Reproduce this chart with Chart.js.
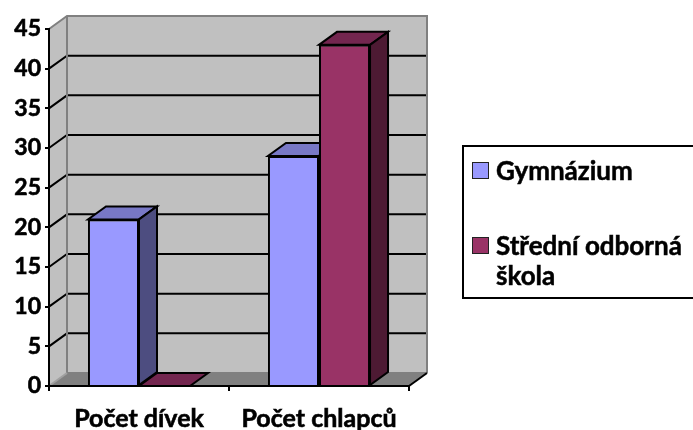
<!DOCTYPE html>
<html>
<head>
<meta charset="utf-8">
<script src="https://cdn.jsdelivr.net/npm/chart.js@4"></script>
<style>
  html, body { margin: 0; padding: 0; background: #fff; }
  #wrap { position: relative; width: 693px; height: 430px; overflow: hidden; }
  #c { position: absolute; left: 0; top: 0; }
  #legend { position: absolute; left: 462px; top: 145px; width: 260px; height: 154px;
    border: 2px solid #000; box-sizing: border-box; font-family: Lato, sans-serif; font-weight: bold;
    font-size: 26px; color: #000; -webkit-text-stroke: 0.5px #000; }
  .item { position: absolute; left: 8px; display: flex; align-items: flex-start; line-height: 30px; }
  .sw { width: 15px; height: 15px; border: 1.5px solid #222; margin-top: 7px; margin-right: 7px; flex: none; }
</style>
</head>
<body>
<div id="wrap">
  <canvas id="c" width="693" height="430"></canvas>
  <div id="legend"></div>
</div>
<script>
const categories = ["Počet dívek", "Počet chlapců"];
const seriesNames = ["Gymnázium", "Střední odborná škola"];
const legendLines = [["Gymnázium"], ["Střední odborná", "škola"]];
const gymnazium = [21, 29];
const stredniOdborna = [0, 43];
const yTicks = [0, 5, 10, 15, 20, 25, 30, 35, 40, 45];

const frontColors = ["#9999FF", "#993366"];
const topColors = ["#7878C6", "#73264F"];
const sideColors = ["#4D4D80", "#4D1A33"];
const DX = 18, DY = -13;

const walls = {
  id: 'walls',
  beforeDraw(chart) {
    const { ctx, chartArea: a, scales: { y } } = chart;
    const x0 = a.left, x1 = a.right;
    const y0 = y.getPixelForValue(yTicks[0]);
    const yT = y.getPixelForValue(yTicks[yTicks.length - 1]);
    ctx.save();
    ctx.fillStyle = '#C0C0C0';
    ctx.beginPath();
    ctx.moveTo(x0, y0); ctx.lineTo(x0, yT); ctx.lineTo(x0 + DX, yT + DY); ctx.lineTo(x0 + DX, y0 + DY); ctx.closePath();
    ctx.fill();
    ctx.fillRect(x0 + DX, yT + DY, x1 - x0, y0 - yT);
    ctx.fillStyle = '#808080';
    ctx.beginPath();
    ctx.moveTo(x0, y0); ctx.lineTo(x1, y0); ctx.lineTo(x1 + DX, y0 + DY); ctx.lineTo(x0 + DX, y0 + DY); ctx.closePath();
    ctx.fill();
    ctx.lineWidth = 2;
    ctx.strokeStyle = '#000';
    for (let i = 1; i < yTicks.length - 1; i++) {
      const py = y.getPixelForValue(yTicks[i]);
      ctx.beginPath();
      ctx.moveTo(x0, py); ctx.lineTo(x0 + DX, py + DY); ctx.lineTo(x1 + DX, py + DY);
      ctx.stroke();
    }
    ctx.strokeStyle = '#808080';
    ctx.beginPath();
    ctx.moveTo(x0, yT); ctx.lineTo(x0 + DX, yT + DY); ctx.lineTo(x1 + DX, yT + DY); ctx.lineTo(x1 + DX, y0 + DY);
    ctx.moveTo(x0 + DX, yT + DY); ctx.lineTo(x0 + DX, y0 + DY); ctx.lineTo(x1 + DX, y0 + DY);
    ctx.stroke();
    ctx.strokeStyle = '#A0A0A0';
    ctx.beginPath();
    ctx.moveTo(x0, y0); ctx.lineTo(x0 + DX, y0 + DY);
    ctx.stroke();
    ctx.strokeStyle = '#000';
    ctx.beginPath();
    ctx.moveTo(x1, y0); ctx.lineTo(x1 + DX, y0 + DY);
    ctx.stroke();
    ctx.restore();
  },
  beforeDatasetsDraw(chart) {
    const { ctx } = chart;
    ctx.save();
    ctx.lineWidth = 2;
    ctx.strokeStyle = '#000';
    chart.data.datasets.forEach((ds, di) => {
      const meta = chart.getDatasetMeta(di);
      meta.data.forEach((bar) => {
        const p = bar.getProps(['x', 'y', 'base', 'width'], true);
        const l = p.x - p.width / 2, r = p.x + p.width / 2, t = p.y, b = p.base;
        ctx.fillStyle = topColors[di];
        ctx.beginPath();
        ctx.moveTo(l, t); ctx.lineTo(r, t); ctx.lineTo(r + DX, t + DY); ctx.lineTo(l + DX, t + DY); ctx.closePath();
        ctx.fill(); ctx.stroke();
        if (b - t > 0.5) {
          ctx.fillStyle = sideColors[di];
          ctx.beginPath();
          ctx.moveTo(r, t); ctx.lineTo(r + DX, t + DY); ctx.lineTo(r + DX, b + DY); ctx.lineTo(r, b); ctx.closePath();
          ctx.fill(); ctx.stroke();
        }
      });
    });
    ctx.restore();
  }
};

const yFont = { family: 'Lato', weight: 'bold', size: 23 };
const xFont = { family: 'Lato', weight: 'bold', size: 25 };

new Chart(document.getElementById('c'), {
  type: 'bar',
  data: {
    labels: categories,
    datasets: [
      { label: seriesNames[0], data: gymnazium, backgroundColor: frontColors[0], borderColor: '#000', borderWidth: 2,
        categoryPercentage: 0.567, barPercentage: 1.0 },
      { label: seriesNames[1], data: stredniOdborna, backgroundColor: frontColors[1], borderColor: '#000', borderWidth: 2,
        categoryPercentage: 0.567, barPercentage: 1.0 }
    ]
  },
  options: {
    responsive: false,
    animation: false,
    devicePixelRatio: 1,
    layout: { padding: { top: 29, right: 284, left: 0, bottom: 0 } },
    plugins: { legend: { display: false }, tooltip: { enabled: false } },
    scales: {
      x: {
        grid: { offset: true, drawOnChartArea: false, drawTicks: true, tickLength: 5, color: '#000', lineWidth: 2 },
        border: { display: true, color: '#000', width: 2 },
        ticks: { font: xFont, color: '#000', padding: 13, maxRotation: 0, textStrokeColor: '#000', textStrokeWidth: 0.6 },
        afterFit(s) { s.height = 44; }
      },
      y: {
        min: yTicks[0], max: yTicks[yTicks.length - 1],
        afterBuildTicks(s) { s.ticks = yTicks.map(v => ({ value: v })); },
        grid: { drawOnChartArea: false, drawTicks: true, tickLength: 4, color: '#000', lineWidth: 2 },
        border: { display: true, color: '#000', width: 2 },
        ticks: { font: yFont, color: '#000', padding: 4, textStrokeColor: '#000', textStrokeWidth: 0.6 },
        afterFit(s) { s.width = 49; }
      }
    }
  },
  plugins: [walls]
});

const lg = document.getElementById('legend');
const tops = [8, 83];
legendLines.forEach((lines, i) => {
  const it = document.createElement('div');
  it.className = 'item';
  it.style.top = tops[i] + 'px';
  const sw = document.createElement('div');
  sw.className = 'sw';
  sw.style.background = frontColors[i];
  const tx = document.createElement('div');
  tx.innerHTML = lines.join('<br>');
  it.appendChild(sw); it.appendChild(tx);
  lg.appendChild(it);
});
</script>
</body>
</html>
